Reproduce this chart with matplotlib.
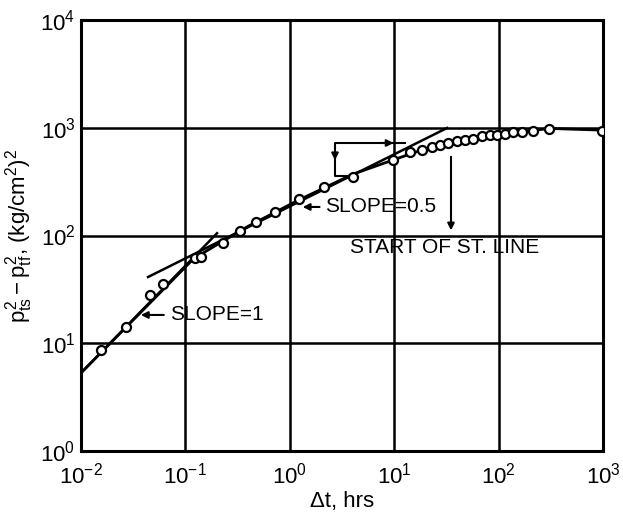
import matplotlib
matplotlib.use("Agg")
import matplotlib.pyplot as plt
from matplotlib import font_manager

names = {f.name for f in font_manager.fontManager.ttflist}
FONT = 'Liberation Sans Narrow' if 'Liberation Sans Narrow' in names else 'Liberation Sans'
plt.rcParams['font.family'] = [FONT, 'DejaVu Sans']
plt.rcParams['mathtext.fontset'] = 'custom'
plt.rcParams['mathtext.rm'] = FONT
plt.rcParams['mathtext.it'] = FONT

# measured data points
dt = [0.0155, 0.027, 0.0458, 0.061, 0.124, 0.141, 0.229, 0.333, 0.475, 0.721,
      1.22, 2.13, 4.03, 9.75, 14.2, 18.5, 23.0, 27.5, 32.7, 40.0, 47.6, 56.9,
      69.3, 82.8, 96.6, 115, 137, 167, 214, 304, 977]
dp2 = [8.65, 14.2, 28.0, 35.5, 61.8, 63.1, 85.2, 110, 133, 165,
       218, 282, 349, 502, 596, 621, 662, 691, 722, 753, 769, 787,
       838, 857, 857, 875, 914, 914, 933, 973, 933]

# drawn smooth curve through the points
curve_x = [0.01, 0.12, 0.2, 0.4, 1.2, 4.0, 9.75, 20, 40, 100, 304, 1000]
curve_y = [5.3, 61, 82, 122, 212, 370, 502, 640, 753, 860, 985, 950]

# straight lines
s1_x = [0.01, 0.201]
s1_y = [5.3, 105]
s05_x = [0.0439, 32.1]
s05_y = [41.2, 995]

xticks = [1e-2, 1e-1, 1e0, 1e1, 1e2, 1e3]
xlabels = ['10$^{-2}$', '10$^{-1}$', '10$^{0}$', '10$^{1}$', '10$^{2}$', '10$^{3}$']
yticks = [1e0, 1e1, 1e2, 1e3, 1e4]
ylabels = ['10$^{0}$', '10$^{1}$', '10$^{2}$', '10$^{3}$', '10$^{4}$']

fig = plt.figure(figsize=(6.23, 5.12), dpi=100)
ax = fig.add_axes([81/623, 61/512, 522/623, 431/512])
ax.set_xscale('log')
ax.set_yscale('log')
ax.set_xlim(1e-2, 1e3)
ax.set_ylim(1e0, 1e4)

ax.set_xticks(xticks)
ax.set_xticklabels(xlabels, fontsize=16)
ax.set_yticks(yticks)
ax.set_yticklabels(ylabels, fontsize=16)
ax.minorticks_off()
ax.tick_params(axis='y', length=0, pad=4)
ax.tick_params(axis='x', length=0, pad=8)
ax.grid(True, color='black', linewidth=1.8)
for s in ax.spines.values():
    s.set_linewidth(2.2)

ax.plot(curve_x, curve_y, color='black', lw=2, zorder=3)
ax.plot(s1_x, s1_y, color='black', lw=1.8, zorder=3)
ax.plot(s05_x, s05_y, color='black', lw=1.8, zorder=3)
ax.plot(dt, dp2, 'o', mfc='white', mec='black', mew=1.6, ms=6.5, zorder=4)

ap = dict(arrowstyle='-|>', color='black', lw=1.5, mutation_scale=10)
ax.annotate('', xy=(0.0352, 18.3), xytext=(0.066, 18.3), arrowprops=ap)
ax.text(0.071, 18.3, 'SLOPE=1', fontsize=15, va='center', ha='left')
ax.annotate('', xy=(1.25, 184), xytext=(2.05, 184), arrowprops=ap)
ax.text(2.17, 184, 'SLOPE=0.5', fontsize=15, va='center', ha='left')
ax.annotate('', xy=(35.0, 105), xytext=(35.0, 571), arrowprops=ap)
ax.text(3.78, 78.2, 'START OF ST. LINE', fontsize=15, va='center', ha='left')

# bracket
ax.plot([3.78, 2.71, 2.71, 12.7], [357, 357, 722, 722], color='black', lw=1.5, zorder=3)
ax.annotate('', xy=(10.5, 722), xytext=(7.0, 722), arrowprops=ap)
ax.annotate('', xy=(2.71, 470), xytext=(2.71, 560), arrowprops=ap)

ax.set_xlabel('Δt, hrs', fontsize=16, labelpad=2)
ax.set_ylabel('$p^2_{ts} - p^2_{tf}$, (kg/cm$^2$)$^2$', fontsize=16, labelpad=4)

fig.savefig('out.png', dpi=100)
